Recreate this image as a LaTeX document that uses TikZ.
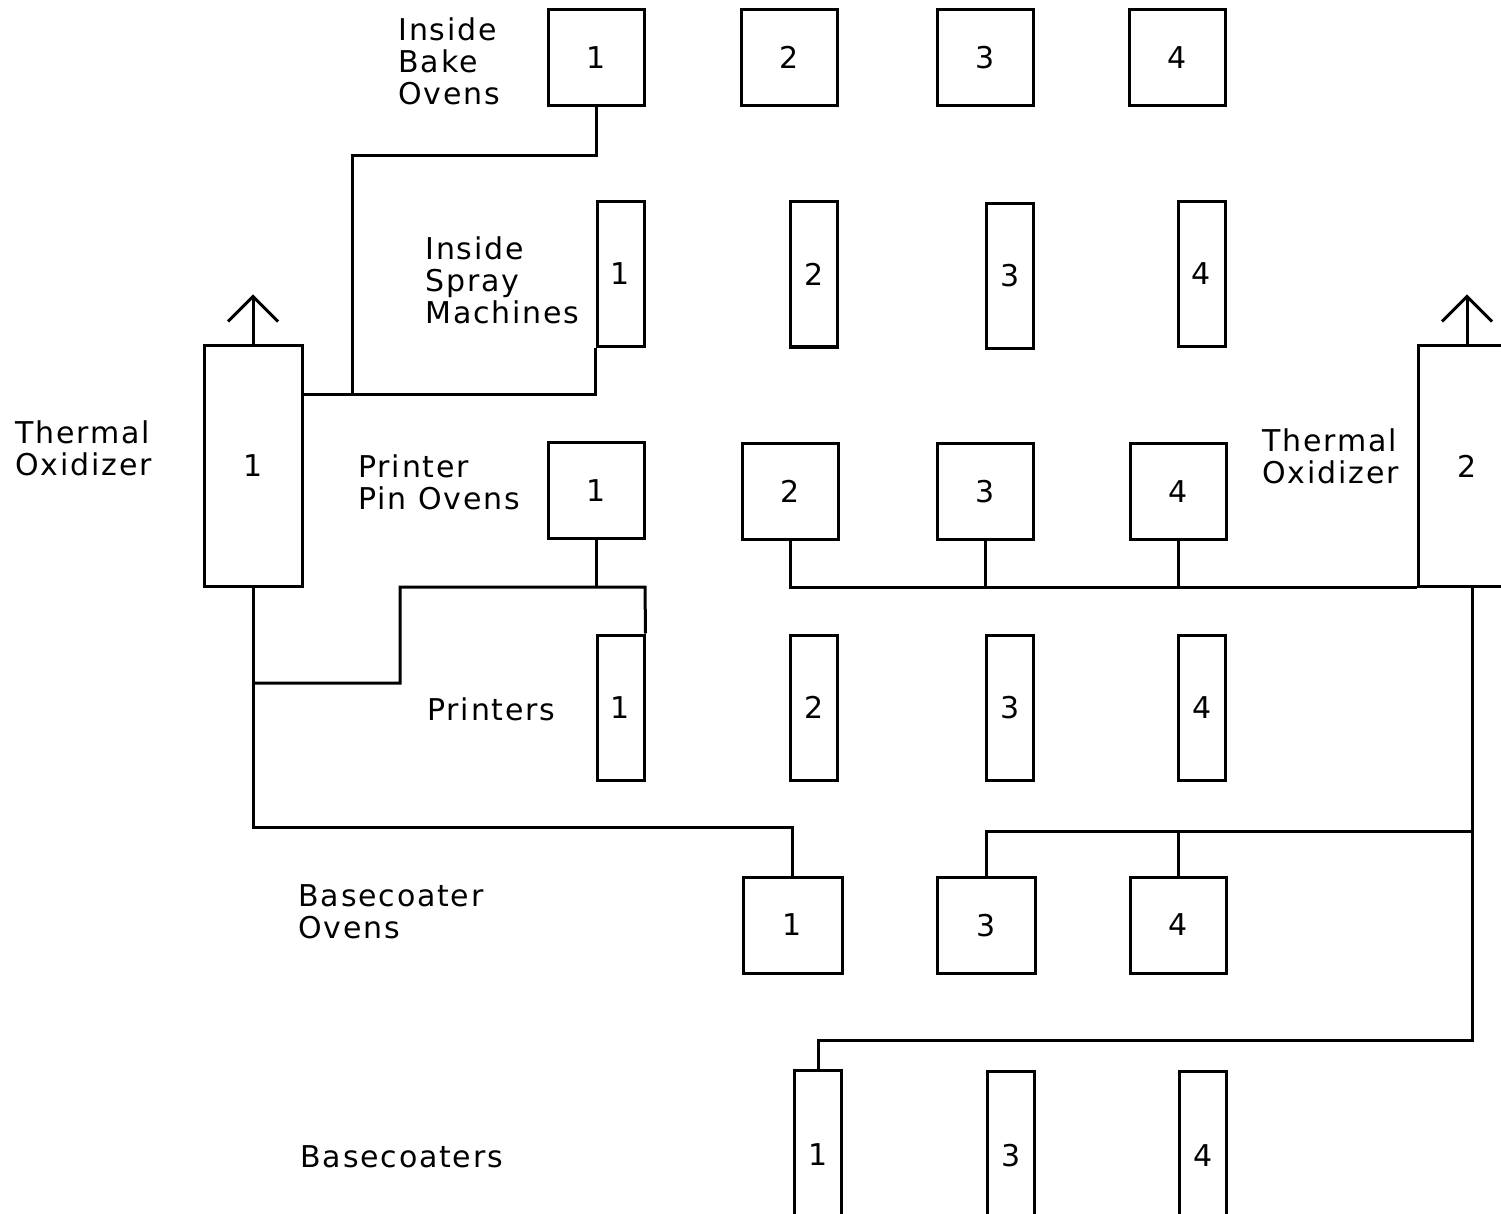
\documentclass[tikz,border=0pt]{standalone}
\usepackage{fontspec}
\setmainfont{DejaVu Sans}[LetterSpace=6]
\usetikzlibrary{positioning, calc}

\begin{document}
\begin{tikzpicture}[x=1pt, y=-1pt, line width=3pt,
    every node/.style={font=\fontsize{30}{32}\selectfont},
    oven/.style={draw, minimum width=96pt, minimum height=96pt, inner sep=0pt},
    slim/.style={draw, minimum width=47pt, minimum height=145pt, inner sep=0pt},
    oxidizer/.style={draw, minimum width=98pt, minimum height=240pt, inner sep=0pt},
    caption/.style={anchor=west, align=left, inner sep=0pt}]
    \clip (0,0) rectangle (1501,1214);
    \fill[white] (0,0) rectangle (1501,1214);

    % inside bake ovens
    \node[caption] (bakelbl) at (397,61) {Inside\\Bake\\Ovens};
    \node[oven] (bo1) at (596,57.5) {1};
    \node[oven] (bo2) at (789,57.5) {2};
    \node[oven] (bo3) at (985.5,57.5) {3};
    \node[oven] (bo4) at (1177.5,57.5) {4};

    % inside spray machines
    \node[caption] (spraylbl) at (424,280) {Inside\\Spray\\Machines};
    \node[slim] (sm1) at (620.5,274) {1};
    \node[slim] (sm2) at (814,274.5) {2};
    \node[slim] (sm3) at (1010,276) {3};
    \node[slim] (sm4) at (1201.5,274) {4};

    % thermal oxidizers
    \node[caption] (ox1lbl) at (14,448) {Thermal\\Oxidizer};
    \node[oxidizer] (to1) at (253,466) {1};
    \node[caption] (ox2lbl) at (1261,456) {Thermal\\Oxidizer};
    \node[oxidizer] (to2) at (1467,466) {2};

    % printer pin ovens
    \node[caption] (pinlbl) at (357,482) {Printer\\Pin Ovens};
    \node[oven] (ppo1) at (596,490.5) {1};
    \node[oven] (ppo2) at (790,491.5) {2};
    \node[oven] (ppo3) at (985.5,491.5) {3};
    \node[oven] (ppo4) at (1178,491.5) {4};

    % printers
    \node[caption] (printlbl) at (426,709) {Printers};
    \node[slim] (pr1) at (620.5,707.5) {1};
    \node[slim] (pr2) at (814,707.5) {2};
    \node[slim] (pr3) at (1010,707.5) {3};
    \node[slim] (pr4) at (1202,707.5) {4};

    % basecoater ovens
    \node[caption] (bcolbl) at (297,912) {Basecoater\\Ovens};
    \node[oven, minimum width=99pt] (bco1) at (792.5,925) {1};
    \node[oven, minimum width=98pt] (bco3) at (986,925.5) {3};
    \node[oven] (bco4) at (1178,925) {4};

    % basecoaters
    \node[caption] (bclbl) at (299,1157) {Basecoaters};
    \node[slim, minimum height=170pt] (bc1) at (818,1155) {1};
    \node[slim, minimum height=170pt] (bc3) at (1011,1156) {3};
    \node[slim, minimum height=170pt] (bc4) at (1203,1156) {4};

    % stacks
    \draw (to1.north) -- ++(0,-48) coordinate (s1);
    \draw ($(s1)+(-25,25)$) -- (s1) -- ++(25,25);
    \draw (to2.north) -- ++(0,-48) coordinate (s2);
    \draw ($(s2)+(-25,25)$) -- (s2) -- ++(25,25);

    % ducts to oxidizer 1
    \coordinate (j1) at (352,394);
    \draw (bo1.south) -- ++(0,49) -| (j1);
    \draw (to1.east |- j1) -| (sm1.south west);
    \coordinate (j2) at (253,827);
    \draw (to1.south) -- (j2) -| (bco1.north);
    \coordinate (j3) at (253,683);
    \coordinate (j4) at (645,587);
    \draw (j3) -- ++(147,0) |- (j4) -- (pr1.north east);
    \draw (ppo1.south) -- (ppo1.south |- j4);

    % ducts to oxidizer 2
    \coordinate (j5) at (1472,587);
    \draw (ppo2.south) |- (to2.south west);
    \draw (ppo3.south) -- (ppo3.south |- j5);
    \draw (ppo4.south) -- (ppo4.south |- j5);
    \coordinate (j6) at (1472,1040);
    \draw (j5) -- (j6) -| (bc1.north);
    \coordinate (j7) at (1472,831);
    \draw (j7) -| (bco3.north);
    \draw (bco4.north) -- (bco4.north |- j7);
\end{tikzpicture}
\end{document}
